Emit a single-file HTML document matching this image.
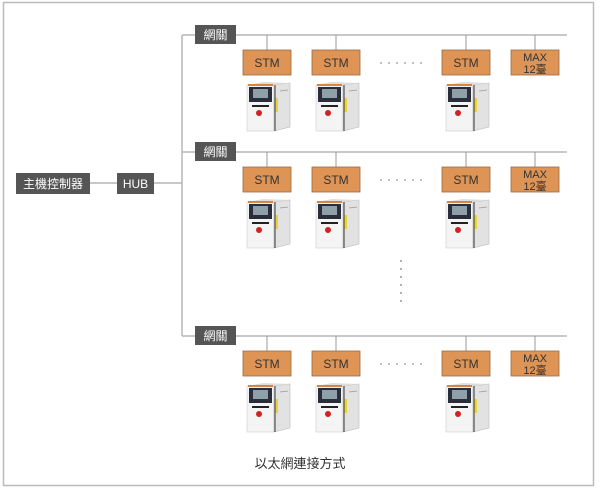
<!DOCTYPE html>
<html><head><meta charset="utf-8"><style>body{margin:0;background:#fff}</style></head><body>
<svg width="600" height="491" viewBox="0 0 600 491" xmlns="http://www.w3.org/2000/svg" font-family="Liberation Sans, Noto Sans CJK TC, sans-serif">
<defs>
<g id="m">
<rect x="0" y="4" width="27" height="46" fill="#f4f4f4" stroke="#ccc" stroke-width="0.6"/>
<polygon points="27,4 43,2 43,46 27,50" fill="#e2e2e2" stroke="#bbb" stroke-width="0.6"/>
<polygon points="0,4 16,1 43,2 27,4" fill="#ddd"/>
<rect x="1" y="3" width="25" height="2" fill="#d9853e"/>
<rect x="2" y="6" width="23" height="15" fill="#2a2e3a"/>
<rect x="6" y="8" width="15" height="9" fill="#8fa0a8"/>
<rect x="5" y="24" width="17" height="2" fill="#222"/>
<circle cx="12" cy="32" r="3" fill="#d42020"/>
<rect x="28" y="17" width="3" height="14" fill="#e8d43a"/>
<rect x="27" y="4" width="2" height="46" fill="#333" opacity="0.5"/>
<line x1="33" y1="10" x2="41" y2="9" stroke="#999" stroke-width="0.8"/>
</g>
<g id="row">
<line x1="182" y1="0" x2="567" y2="0" stroke="#b5b5b5" stroke-width="1.5"/>
<rect x="195" y="-10" width="41" height="19" fill="#555"/>
<text x="215.5" y="4" font-size="12" fill="#fff" text-anchor="middle">網關</text>
<g stroke="#999" stroke-width="1"><line x1="267" y1="0" x2="267" y2="15"/><line x1="336" y1="0" x2="336" y2="15"/><line x1="466" y1="0" x2="466" y2="15"/><line x1="535" y1="0" x2="535" y2="15"/></g>
<g fill="#de9455" stroke="#9a6a44" stroke-width="0.8">
<rect x="243" y="15" width="48" height="25"/><rect x="312" y="15" width="48" height="25"/><rect x="442" y="15" width="48" height="25"/><rect x="511" y="15" width="48" height="25"/></g>
<g font-size="12" fill="#333" text-anchor="middle">
<text x="267" y="32">STM</text><text x="336" y="32">STM</text><text x="466" y="32">STM</text>
<text x="535" y="26" font-size="11">MAX</text><text x="535" y="38" font-size="11">12臺</text></g>
<g fill="#777"><circle cx="381" cy="28" r="0.8"/><circle cx="389" cy="28" r="0.8"/><circle cx="397" cy="28" r="0.8"/><circle cx="405" cy="28" r="0.8"/><circle cx="413" cy="28" r="0.8"/><circle cx="421" cy="28" r="0.8"/></g>
<use href="#m" x="247" y="46"/><use href="#m" x="316" y="46"/><use href="#m" x="446" y="46"/>
</g>
</defs>
<rect x="3.5" y="2.5" width="590" height="483" fill="none" stroke="#bbb" stroke-width="1.5"/>
<line x1="182" y1="35" x2="182" y2="336" stroke="#b5b5b5" stroke-width="1.5"/>
<line x1="90" y1="183" x2="182" y2="183" stroke="#b5b5b5" stroke-width="1.5"/>
<rect x="16" y="173" width="74" height="21" fill="#555"/>
<text x="53" y="188" font-size="12" fill="#fff" text-anchor="middle">主機控制器</text>
<rect x="117" y="173" width="37" height="21" fill="#555"/>
<text x="135.5" y="188" font-size="12" fill="#fff" text-anchor="middle">HUB</text>
<use href="#row" y="35"/><use href="#row" y="152"/><use href="#row" y="336"/>
<g fill="#777"><circle cx="401" cy="261" r="0.9"/><circle cx="401" cy="269" r="0.9"/><circle cx="401" cy="277" r="0.9"/><circle cx="401" cy="285" r="0.9"/><circle cx="401" cy="293" r="0.9"/><circle cx="401" cy="301" r="0.9"/></g>
<text x="300" y="468" font-size="13" fill="#333" text-anchor="middle">以太網連接方式</text>
</svg>
</body></html>
